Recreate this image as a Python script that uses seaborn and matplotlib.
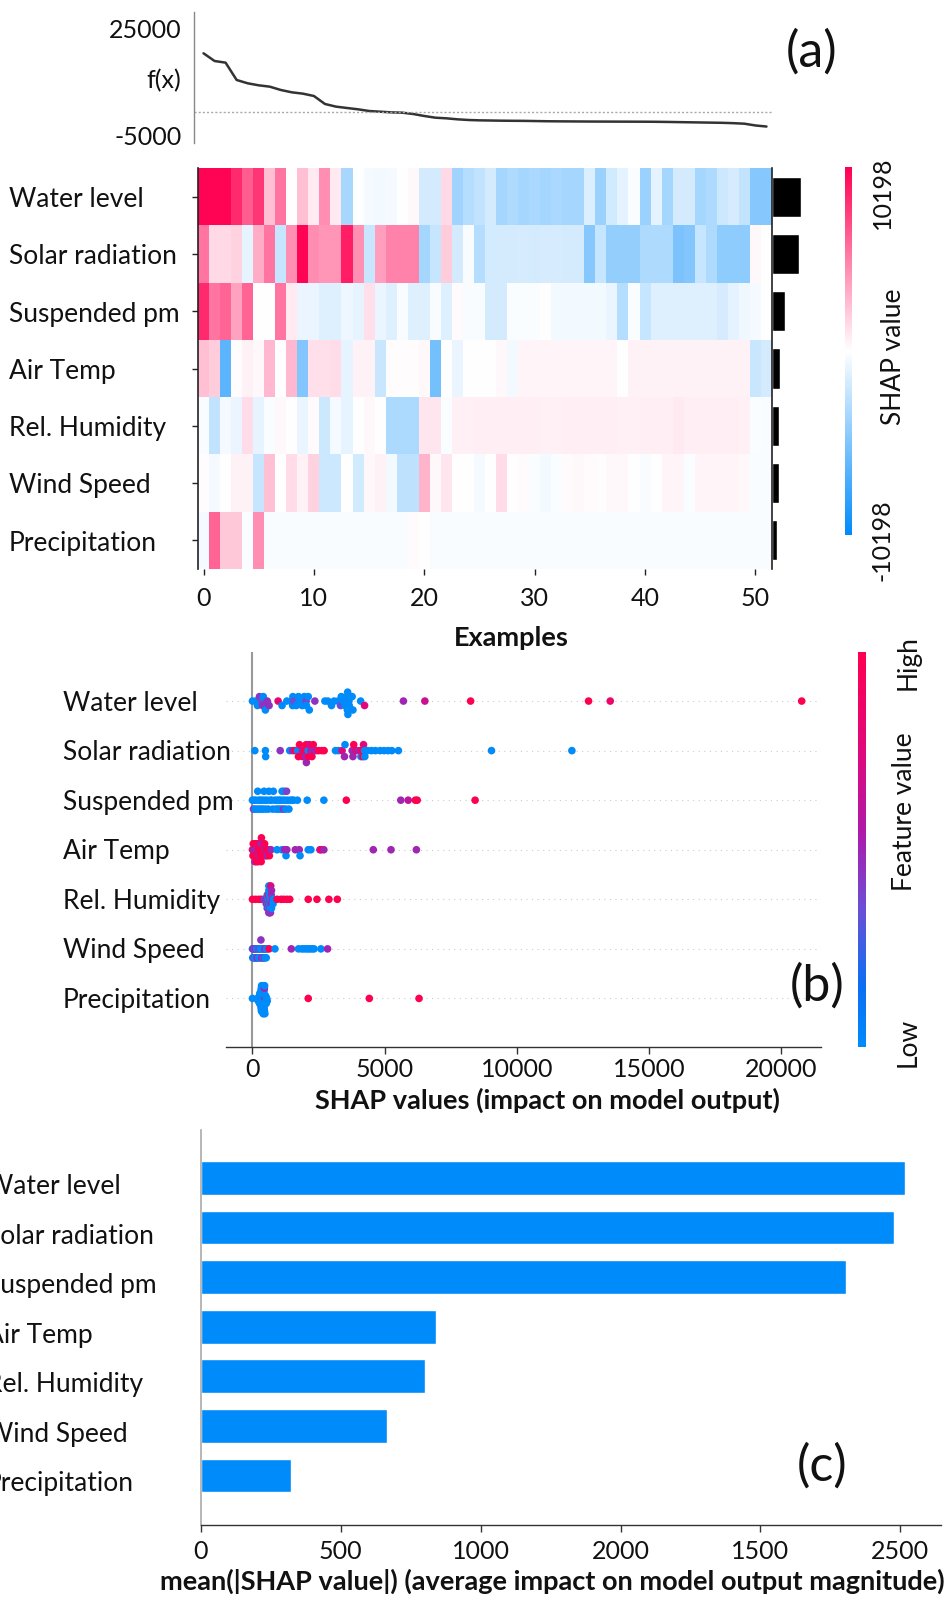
import numpy as np
import pandas as pd
import seaborn as sns
import matplotlib
matplotlib.use("Agg")
import matplotlib.pyplot as plt
from matplotlib import transforms
from matplotlib.colors import LinearSegmentedColormap, Normalize
from matplotlib.cm import ScalarMappable

# ---------------- data ----------------
feature_names = ["Water level", "Solar radiation", "Suspended pm", "Air Temp",
                 "Rel. Humidity", "Wind Speed", "Precipitation"]

# (a) model output per example
fx_values = [18120, 15940, 15470, 10570, 9630, 9060, 8680, 7740, 7080, 6700,
             6040, 3780, 3030, 2640, 2270, 1790, 1600, 1410, 1320, 940,
             380, -100, -280, -560, -750, -850, -900, -950, -980, -1000,
             -1050, -1100, -1130, -1150, -1170, -1190, -1200, -1210, -1220, -1230,
             -1240, -1260, -1300, -1350, -1400, -1450, -1500, -1550, -1650, -1800,
             -2300, -2600]
base_value = 1600
fx_ticks = [25000, -5000]

# (a) SHAP values heatmap rows (52 examples)
water_shap = [10000, 10000, 10000, 8500, 6500, 8000, 2500, 5500, 0, 2500,
              800, 4500, 800, -3500, -100, -400, -500, -400, 0, 300,
              -1700, -1700, 1500, -3800, -3000, -2400, -1700, -3600, -3200, -3600,
              -3400, -3600, -3400, -3600, -3600, -1400, -4000, -1900, -1100, -200,
              -4000, -1100, -3600, -1700, -1700, -3600, -3200, -2000, -1600, -2400,
              -4800, -4800]
solar_shap = [5500, 1500, 1500, 1800, -1000, 3300, 5500, -2300, 4500, 10000,
              4600, 4200, 4200, 9000, 4400, -2200, 3900, 5000, 5000, 5000,
              -3600, -2300, 2000, -1700, -300, -3000, -1800, -1700, -1700, -1600,
              -1700, -1600, -1600, -1700, -1700, -4800, -2300, -4300, -4300, -4300,
              -3200, -3200, -3200, -5200, -5000, -2300, -3200, -4500, -4500, -4500,
              300, 0]
suspended_shap = [8500, 5500, 6200, 3700, 6200, 0, 0, 5500, 800, -800,
                  -800, -1300, -1300, -700, -1000, 1200, -800, -1300, -300, -1300,
                  -1300, -300, -1300, 200, -300, -300, -1700, -1700, -200, -200,
                  -200, 0, -500, -500, -500, -500, -500, -800, -3000, -200,
                  -2300, -1300, -1300, -1300, -1300, -1300, -1300, -1600, -1100, -600,
                  -400, 0]
airtemp_shap = [2500, 2000, -6500, 150, 500, 300, 2800, 0, 2800, -5000,
                1200, 1200, 1400, -1000, 500, 500, -2200, 100, 100, 100,
                300, -5500, 0, -800, 50, 50, 50, 300, -500, 400,
                400, 400, 400, 400, 400, 400, 400, 400, 50, 500,
                500, 500, 500, 500, 500, 500, 500, 500, 500, 500,
                -2200, -1700]
relhum_shap = [-300, -2400, -400, -800, 1400, -1000, -200, 300, 0, -800,
               200, -2000, -400, -1000, 0, 300, 0, -3300, -3300, -3300,
               1000, 1000, -200, 600, 600, 700, 700, 700, 700, 700,
               700, 600, 600, 700, 700, 700, 700, 700, 600, 600,
               700, 700, 700, 800, 700, 700, 700, 700, 700, 600,
               -200, -300]
wind_shap = [100, -400, 0, 500, 500, -2300, 2500, 0, 1400, 500,
             1800, -2000, -2000, 0, -1900, 300, 500, -500, -2600, -2600,
             3000, 300, 1000, 0, 0, -400, 0, 1400, 0, 200,
             -200, -500, -200, 200, 300, 200, 100, 300, 300, 0,
             -300, 0, 400, 400, -200, 400, 400, 400, 400, 300,
             -300, -300]
precip_shap = [-400, 6200, 2200, 2200, -200, 4500, -300, -300, -300, -300,
               -300, -300, -300, -300, -300, -300, -300, -300, -300, 200,
               0, -300, -300, -300, -300, -300, -300, -300, -300, -300,
               -300, -300, -300, -300, -300, -300, -300, -300, -300, -300,
               -300, -300, -300, -300, -300, -300, -300, -300, -300, -300,
               -300, -300]
heat_limit = 10198
heat_bar_values = [29.3, 27.0, 12.7, 8.0, 7.0, 7.0, 5.3]
example_ticks = [0, 10, 20, 30, 40, 50]

# (b) beeswarm: SHAP value and normalized feature value per sample
water_vals = [0, 120, 190, 265, 340, 380, 410, 490, 560, 630, 970, 1120, 1300, 1470, 1520, 1530,
              1560, 1660, 1740, 1770, 1880, 1960, 2030, 2040, 2110, 2150, 2360, 2740, 2850, 2990,
              3090, 3240, 3330, 3360, 3430, 3500, 3580, 3590, 3600, 3610, 3650, 3660, 3770, 3800,
              4090, 4240, 5710, 6520, 8250, 12710, 13530, 20770]
water_feat = [0, 0, 0, .45, .35, .45, 0, 0, .45, .45, .8, 0, 0, 0, 0, 0,
              .35, 0, 0, 0, 0, 0, .4, 0, 0, 0, .45, 0, 0, 0,
              0, 0, .35, 0, 0, 0, 0, 0, 0, 0, 0, 0, 0, 0,
              0, .75, .5, .65, 1, 1, .85, 1]
solar_vals = [90, 490, 500, 1050, 1410, 1520, 1620, 1710, 1740, 1780, 1890, 1900, 1960, 2000, 2030, 2040,
              2110, 2120, 2150, 2210, 2250, 2300, 2400, 2500, 2620, 2710, 3140, 3250, 3390, 3480,
              3500, 3770, 3800, 3830, 3920, 4020, 4100, 4120, 4170, 4200, 4240, 4250, 4360, 4500,
              4650, 4830, 4980, 5130, 5270, 5520, 9040, 12080]
solar_feat = [0, 0, 0, .45, 0, .5, 1, 0, 1, 1, .5, 1, 1, .5, 1, .5,
              0, 1, .75, .5, 1, 1, .5, 1, 1, 1, 0, 0, .75, .5,
              0, .5, .5, 1, .75, .5, 0, 1, 1, .75, 0, 0, 0, 0,
              0, 0, 0, 0, 0, 0, 0, 0]
susp_vals = [0, 40, 60, 100, 130, 180, 200, 240, 260, 300, 330, 380, 400, 440, 470, 500,
             560, 600, 620, 680, 720, 760, 790, 850, 880, 930, 960, 1000, 1030, 1060,
             1100, 1120, 1150, 1180, 1200, 1230, 1260, 1290, 1330, 1380, 1440, 1500, 1560, 1700,
             2070, 2700, 3550, 5610, 5890, 6160, 6230, 8420]
susp_feat = [0, .45, 0, 0, 0, 0, 0, 0, 0, 0, 0, 0, 0, 0, 0, 0,
             0, 0, 0, 0, 0, 0, 0, 0, 0, 0, 0, 0, 0, 0,
             0, 0, 0, .45, 0, 0, 0, .4, 0, 0, 0, 0, 0, 0,
             0, 0, 1, .5, .6, 1, 1, 1]
air_vals = [0, 20, 30, 40, 60, 80, 90, 100, 110, 120, 150, 170, 190, 200, 210, 230,
            250, 260, 280, 300, 320, 330, 340, 350, 380, 400, 420, 440, 460, 480,
            500, 530, 560, 600, 640, 700, 930, 1120, 1220, 1270, 1300, 1620, 1770, 1800,
            2110, 2210, 2550, 2600, 2700, 4570, 5240, 6200]
air_feat = [1, 1, 1, .5, 1, 1, .5, .5, 1, 1, 1, .5, 1, 1, 1, 1,
            .5, 1, 1, 1, .5, 1, 1, 1, 1, .5, 1, 1, 1, .5,
            1, 1, .5, 1, 1, .5, 0, 0, .5, 0, .5, .5, .5, 0,
            0, 0, .5, 1, .5, .5, .5, .5]
hum_vals = [0, 120, 240, 340, 440, 480, 500, 520, 540, 550, 560, 560, 580, 580, 600, 600,
            600, 610, 620, 620, 620, 630, 640, 640, 640, 650, 650, 660, 660, 660, 670,
            680, 680, 690, 700, 700, 710, 720, 720, 740, 760, 780, 800, 930, 1080, 1180,
            1300, 1410, 2110, 2440, 2890, 3210]
hum_feat = [1, 1, 1, 1, .5, 0, .5, 0, .45, 1, 0, .45, .5, 0, 0, .45, 1, 0, 0, .5, 0, 0,
            .45, 0, .5, 0, .45, .5, 0, 0, 0,
            0, .45, .75, 0, .5, .45, 0, .5, 0, .5, 0, 0, 1, 1, 1,
            1, 1, 1, 1, 1, 1]
wind_vals = [0, 10, 20, 40, 50, 60, 80, 90, 100, 120, 140, 150, 160, 180, 200, 210,
             220, 240, 250, 260, 280, 300, 310, 320, 340, 350, 360, 380, 400, 410,
             420, 440, 460, 470, 480, 500, 520, 530, 560, 630, 850, 1470, 1740, 1860,
             1940, 2030, 2110, 2180, 2260, 2330, 2590, 2840]
wind_feat = [0, 0, .5, 0, .5, .45, 0, 0, .5, 0, .45, 0, 0, .5, 0, .5,
             .45, 0, 0, 0, .5, 0, 0, .45, 0, .5, 0, .5, 0, 0,
             0, .45, 0, .45, 0, .5, 0, 0, 0, 1, 0, .5, 0, 0,
             0, 0, 0, 0, 0, 0, 0, .5]
precip_vals = [0, 200, 220, 240, 250, 260, 270, 280, 290, 300,
               305, 310, 315, 320, 325, 330, 335, 340, 345, 350,
               355, 360, 365, 370, 375, 380, 385, 390, 395, 400,
               405, 410, 415, 420, 425, 430, 435, 440, 445, 450,
               455, 460, 470, 480, 490, 500, 520, 540, 560, 2110, 4420, 6300]
precip_feat = [0] * 39 + [.5, 0, 0, 0, .75, 0, 0, 0, 0, 0, 1, 1, 1]
swarm_ticks = [0, 5000, 10000, 15000, 20000]

# (c) mean |SHAP|
mean_abs_shap = [2517, 2478, 2304, 839, 800, 667, 324]
bar_tick_pos = [0, 500, 1000, 1500, 2000, 2500]
bar_tick_labels = ["0", "500", "1000", "2000", "1500", "2500"]

# ---------------- style ----------------
sns.set_theme(style="white")
FONT = ["Lato", "DejaVu Sans"]
plt.rcParams["font.family"] = FONT
FS = 19          # feature labels / axis titles
TFS = 18         # tick labels
BFS = 19.5       # bold x labels
LFS = 36         # panel letters
BLUE = "#008bfb"
RED = "#ff0051"
TXT = "#111111"

W, H = 953, 1598
fig = plt.figure(figsize=(W / 100, H / 100), dpi=100)


def box(x0, y0, x1, y1):
    return [x0 / W, 1 - y1 / H, (x1 - x0) / W, (y1 - y0) / H]


def ftext(x, y, s, **kw):
    fig.text(x / W, 1 - y / H, s, color=TXT, **kw)


# ---------------- (a) f(x) line ----------------
ax_line = fig.add_axes(box(194, 12, 772, 143))
sns.lineplot(x=np.arange(len(fx_values)), y=fx_values, ax=ax_line, color="#333333", lw=1.8)
ax_line.axhline(base_value, color="#aaaaaa", lw=1.0, ls=(0, (1.5, 1.5)))
ax_line.set_xlim(-0.862, 51.5)
ax_line.set_ylim(-7260, 29800)
ax_line.set_xticks([])
ax_line.set_yticks(fx_ticks)
ax_line.set_yticklabels([str(t) for t in fx_ticks], fontsize=TFS, color=TXT)
ax_line.tick_params(axis="y", length=0, pad=9)
ax_line.set_xlabel("")
ax_line.set_ylabel("")
for s in ["top", "right", "bottom"]:
    ax_line.spines[s].set_visible(False)
ax_line.spines["left"].set_color("#888888")
ax_line.spines["left"].set_linewidth(1.0)
ax_line.text(-0.023, 10500, "f(x)", transform=transforms.blended_transform_factory(ax_line.transAxes, ax_line.transData),
             ha="right", va="center", fontsize=TFS, color=TXT)
ftext(812, 52, "(a)", fontsize=LFS, ha="center", va="center")

# ---------------- (a) heatmap ----------------
shap_matrix = np.array([water_shap, solar_shap, suspended_shap, airtemp_shap,
                        relhum_shap, wind_shap, precip_shap])
heat_df = pd.DataFrame(shap_matrix, index=feature_names)
heat_cmap = LinearSegmentedColormap.from_list("rwb", [BLUE, "#ffffff", RED])
ax_heat = fig.add_axes(box(198, 168, 772, 569))
cax1 = fig.add_axes(box(845, 167, 852, 535))
sns.heatmap(heat_df, ax=ax_heat, cmap=heat_cmap, vmin=-heat_limit, vmax=heat_limit,
            cbar=True, cbar_ax=cax1, xticklabels=False, yticklabels=False)
ax_heat.set_xticks([t + 0.5 for t in example_ticks])
ax_heat.set_xticklabels([str(t) for t in example_ticks], fontsize=TFS, rotation=0, color=TXT)
ax_heat.set_yticks([i + 0.5 for i in range(len(feature_names))])
ax_heat.set_yticklabels([])
ax_heat.tick_params(axis="both", bottom=True, left=True, length=4, width=1, color="#222222", pad=9)
ax_heat.spines["left"].set_visible(True)
ax_heat.spines["left"].set_color("#222222")
ax_heat.spines["left"].set_linewidth(1.2)
ax_heat.set_ylabel("")
ax_heat.set_xlabel("Examples", fontsize=BFS, fontweight="bold", color=TXT)
ax_heat.xaxis.set_label_coords((511 - 198) / 574, -(638 - 569) / 401, transform=ax_heat.transAxes)
ax_heat.xaxis.label.set_va("center")
tr_heat = transforms.blended_transform_factory(fig.transFigure, ax_heat.transData)
for i, name in enumerate(feature_names):
    ax_heat.text(9 / W, i + 0.55, name, transform=tr_heat, ha="left", va="center", fontsize=FS, color=TXT)
cb1 = ax_heat.collections[0].colorbar
cb1.outline.set_visible(False)
cb1.set_ticks([])
ftext(882, 193, str(heat_limit), rotation=90, ha="center", va="center", fontsize=TFS)
ftext(882, 540, "-" + str(heat_limit), rotation=90, ha="center", va="center", fontsize=TFS)
ftext(894, 357, "SHAP value", rotation=90, ha="center", va="center", fontsize=FS)

ax_hbar = fig.add_axes(box(772, 168, 806, 569))
sns.barplot(x=heat_bar_values, y=feature_names, orient="h", color="black", saturation=1,
            width=0.7, ax=ax_hbar)
ax_hbar.set_xlim(0, 34)
ax_hbar.set_ylim(6.5, -0.5)
ax_hbar.set_xticks([])
ax_hbar.set_yticks([])
ax_hbar.set_xlabel("")
ax_hbar.set_ylabel("")
for s in ["top", "right", "bottom"]:
    ax_hbar.spines[s].set_visible(False)
ax_hbar.spines["left"].set_color("#222222")
ax_hbar.spines["left"].set_linewidth(1.2)

# ---------------- (b) beeswarm ----------------
bee_cmap = LinearSegmentedColormap.from_list(
    "shap_rb", [(0, BLUE), (0.15, "#0a6ff3"), (0.35, "#6a4fd6"), (0.55, "#b018a8"),
                (0.75, "#e0087a"), (1.0, RED)])


def swarm_offsets(vals, nbins=100, row_height=0.4):
    vals = np.asarray(vals, dtype=float)
    quant = np.round(nbins * (vals - vals.min()) / (vals.max() - vals.min() + 1e-8))
    inds = np.argsort(quant, kind="stable")
    layer, last_bin = 0, -1
    ys = np.zeros(len(vals))
    for ind in inds:
        if quant[ind] != last_bin:
            layer = 0
        ys[ind] = np.ceil(layer / 2) * ((layer % 2) * 2 - 1)
        layer += 1
        last_bin = quant[ind]
    ys *= 0.9 * (row_height / np.max(ys + 1))
    return ys


ax_sw = fig.add_axes(box(226, 652, 821, 1047))
swarm_sets = [(water_vals, water_feat), (solar_vals, solar_feat), (susp_vals, susp_feat),
              (air_vals, air_feat), (hum_vals, hum_feat), (wind_vals, wind_feat),
              (precip_vals, precip_feat)]
for i, (vals, feat) in enumerate(swarm_sets):
    ax_sw.axhline(i, color="#cccccc", lw=0.8, dashes=(1, 4), zorder=-1)
    df = pd.DataFrame({"shap": vals, "row": i + swarm_offsets(vals), "feat": feat})
    sns.scatterplot(data=df, x="shap", y="row", hue="feat", palette=bee_cmap, hue_norm=(0, 1),
                    s=30, linewidth=0, legend=False, ax=ax_sw, zorder=3)
ax_sw.axvline(0, color="#999999", lw=1.5, zorder=1)
ax_sw.set_xlim(-1000, 21500)
ax_sw.set_ylim(6.98, -0.99)
ax_sw.set_yticks([])
ax_sw.set_xticks(swarm_ticks)
ax_sw.set_xticklabels([str(t) for t in swarm_ticks], fontsize=TFS, color=TXT)
ax_sw.tick_params(axis="x", bottom=True, length=5, width=1, color="#333333", pad=3)
for s in ["top", "right", "left"]:
    ax_sw.spines[s].set_visible(False)
ax_sw.spines["bottom"].set_color("#333333")
ax_sw.spines["bottom"].set_linewidth(1.0)
ax_sw.set_ylabel("")
ax_sw.set_xlabel("SHAP values (impact on model output)", fontsize=BFS, fontweight="bold", color=TXT)
ax_sw.xaxis.set_label_coords((547 - 226) / 595, -(1100 - 1047) / 395, transform=ax_sw.transAxes)
ax_sw.xaxis.label.set_va("center")
tr_sw = transforms.blended_transform_factory(fig.transFigure, ax_sw.transData)
for i, name in enumerate(feature_names):
    ax_sw.text(63 / W, i + 0.04, name, transform=tr_sw, ha="left", va="center", fontsize=FS, color=TXT)

cax2 = fig.add_axes(box(858, 652, 866, 1047))
cb2 = fig.colorbar(ScalarMappable(norm=Normalize(0, 1), cmap=bee_cmap), cax=cax2)
cb2.outline.set_visible(False)
cb2.set_ticks([])
ftext(908, 663, "High", rotation=90, ha="center", va="center", fontsize=FS)
ftext(908, 1042, "Low", rotation=90, ha="center", va="center", fontsize=FS)
ftext(905, 812, "Feature value", rotation=90, ha="center", va="center", fontsize=FS)
ftext(817, 986, "(b)", fontsize=LFS, ha="center", va="center")

# ---------------- (c) bar chart ----------------
ax_bar = fig.add_axes(box(200.7, 1130, 941, 1525))
sns.barplot(x=mean_abs_shap, y=feature_names, orient="h", color=BLUE, saturation=1,
            width=0.68, ax=ax_bar)
ax_bar.set_xlim(0, 2645)
ax_bar.set_ylim(7.0, -0.97)
ax_bar.set_yticks([])
ax_bar.set_xticks(bar_tick_pos)
ax_bar.set_xticklabels(bar_tick_labels, fontsize=TFS, color=TXT)
ax_bar.tick_params(axis="x", bottom=True, length=5, width=1, color="#333333", pad=6)
for s in ["top", "right"]:
    ax_bar.spines[s].set_visible(False)
ax_bar.spines["left"].set_color("#aaaaaa")
ax_bar.spines["left"].set_linewidth(1.2)
ax_bar.spines["bottom"].set_color("#333333")
ax_bar.spines["bottom"].set_linewidth(1.0)
ax_bar.set_ylabel("")
ax_bar.set_xlabel("mean(|SHAP value|) (average impact on model output magnitude)",
                  fontsize=BFS, fontweight="bold", color=TXT)
ax_bar.xaxis.set_label_coords((552 - 200.7) / 740.3, -(1581 - 1525) / 395, transform=ax_bar.transAxes)
ax_bar.xaxis.label.set_va("center")
tr_bar = transforms.blended_transform_factory(fig.transFigure, ax_bar.transData)
for i, name in enumerate(feature_names):
    ax_bar.text(-14 / W, i + 0.17, name, transform=tr_bar, ha="left", va="center", fontsize=FS, color=TXT)
ftext(822, 1466, "(c)", fontsize=LFS, ha="center", va="center")

fig.savefig("out.png", dpi=100)
